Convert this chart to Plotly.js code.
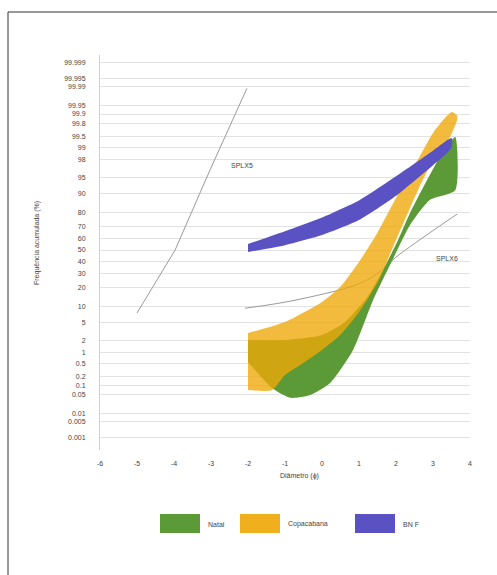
<!DOCTYPE html>
<html>
<head>
<meta charset="utf-8">
<script src="https://cdn.plot.ly/plotly-3.0.1.min.js"></script>
<style>
html,body{margin:0;padding:0;background:#fff;}
#chart{width:497px;height:575px;}
</style>
</head>
<body>
<div id="chart"></div>
<script>
// ---- Data (diameter in phi, cumulative frequency in %) ----
const yTickPct = [0.001, 0.005, 0.01, 0.05, 0.1, 0.2, 0.5, 1, 2, 5, 10, 20, 30, 40, 50, 60, 70, 80, 90, 95, 98, 99, 99.5, 99.8, 99.9, 99.95, 99.99, 99.995, 99.999];
const yTickText = ["0.001", "0.005", "0.01", "0.05", "0.1", "0.2", "0.5", "1", "2", "5", "10", "20", "30", "40", "50", "60", "70", "80", "90", "95", "98", "99", "99.5", "99.8", "99.9", "99.95", "99.99", "99.995", "99.999"];
const xTickVals = [-6, -5, -4, -3, -2, -1, 0, 1, 2, 3, 4];

const seriesNames = ["Natal", "Copacabana", "BN F"];

// Green band (Natal)
const natalTopPhi = [-2, -1, 0, 0.62, 1.22, 1.65, 2.03, 2.38, 2.84, 3.19, 3.6];
const natalTopPct = [2.04, 2.04, 2.68, 5.1, 14.2, 32.5, 57.2, 80, 94.4, 98.3, 99.49];
const natalBotPhi = [-2, -1.35, -0.86, -0.32, 0.22, 0.84, 1.38, 1.97, 2.38, 2.92, 3.6];
const natalBotPct = [0.55, 0.085, 0.039, 0.049, 0.126, 1.16, 12.7, 45.5, 71.5, 87.3, 91.3];

// Orange band (Copacabana)
const copaTopPhi = [-2, -1, 0, 0.49, 1.0, 1.51, 2.0, 2.51, 3.0, 3.32, 3.51, 3.65];
const copaTopPct = [2.96, 5.1, 11.9, 20, 39.3, 65.9, 88.1, 97.3, 99.61, 99.865, 99.915, 99.89];
const copaBotPhi = [-2, -1.35, -1.0, -0.59, 0, 0.49, 1.0, 1.51, 2.0, 2.38, 2.78, 3.19, 3.46, 3.65];
const copaBotPct = [0.073, 0.073, 0.225, 0.45, 1.16, 2.68, 7.9, 23.3, 59, 83, 95.4, 98.85, 99.49, 99.84];

// Blue band (BN F)
const bnfPhi = [-2, -1, 0, 1, 2, 3, 3.5];
const bnfTopPct = [55.4, 66.5, 77, 87, 95.3, 98.8, 99.45];
const bnfBotPct = [48.2, 54.4, 63.3, 75.2, 89.1, 97.3, 99.0];

// Reference lines
const splx5Phi = [-5, -3.97, -3.03, -2.03];
const splx5Pct = [7.6, 50, 96.5, 99.988];
const splx6Phi = [-2.08, -0.59, 1.22, 2.11, 3.65];
const splx6Pct = [9.3, 13.2, 24.8, 46.4, 79.3];
const lineNames = ["SPLX5", "SPLX6"];

// ---- Probability scale (inverse normal CDF) ----
function probit(pct) {
  const p = pct / 100;
  const a = [-3.969683028665376e+01, 2.209460984245205e+02, -2.759285104469687e+02, 1.383577518672690e+02, -3.066479806614716e+01, 2.506628277459239e+00];
  const b = [-5.447609879822406e+01, 1.615858368580409e+02, -1.556989798598866e+02, 6.680131188771972e+01, -1.328068155288572e+01];
  const c = [-7.784894002430293e-03, -3.223964580411365e-01, -2.400758277161838e+00, -2.549732539343734e+00, 4.374664141464968e+00, 2.938163982698783e+00];
  const d = [7.784695709041462e-03, 3.224671290700398e-01, 2.445134137142996e+00, 3.754408661907416e+00];
  const pl = 0.02425, ph = 1 - pl;
  let q, r;
  if (p < pl) {
    q = Math.sqrt(-2 * Math.log(p));
    return (((((c[0]*q+c[1])*q+c[2])*q+c[3])*q+c[4])*q+c[5]) / ((((d[0]*q+d[1])*q+d[2])*q+d[3])*q+1);
  } else if (p <= ph) {
    q = p - 0.5; r = q*q;
    return (((((a[0]*r+a[1])*r+a[2])*r+a[3])*r+a[4])*r+a[5])*q / (((((b[0]*r+b[1])*r+b[2])*r+b[3])*r+b[4])*r+1);
  } else {
    q = Math.sqrt(-2 * Math.log(1 - p));
    return -(((((c[0]*q+c[1])*q+c[2])*q+c[3])*q+c[4])*q+c[5]) / ((((d[0]*q+d[1])*q+d[2])*q+d[3])*q+1);
  }
}
const Z = arr => arr.map(probit);

function band(topX, topP, botX, botP, color, name) {
  return {
    x: topX.concat(botX.slice().reverse()),
    y: Z(topP).concat(Z(botP).reverse()),
    type: 'scatter', mode: 'lines', fill: 'toself',
    fillcolor: color, line: {width: 0, shape: 'spline', smoothing: 0.6},
    name: name, showlegend: false, hoverinfo: 'skip'
  };
}

const colors = ['#5b9a36', 'rgba(240,168,8,0.78)', '#5a52c2'];
const legendSwatch = ['#5b9a36', '#f0b01e', '#5a52c2'];

const traces = [
  {x: splx5Phi, y: Z(splx5Pct), type: 'scatter', mode: 'lines', line: {color: '#9a9a9a', width: 1}, showlegend: false, name: lineNames[0]},
  {x: splx6Phi, y: Z(splx6Pct), type: 'scatter', mode: 'lines', line: {color: '#9a9a9a', width: 1, shape: 'spline'}, showlegend: false, name: lineNames[1]},
  band(natalTopPhi, natalTopPct, natalBotPhi, natalBotPct, colors[0], seriesNames[0]),
  band(copaTopPhi, copaTopPct, copaBotPhi, copaBotPct, colors[1], seriesNames[1]),
  band(bnfPhi, bnfTopPct, bnfPhi, bnfBotPct, colors[2], seriesNames[2])
];

// paper coordinate helpers (plot area: x 100..470, y 55..450)
const px = v => (v - 100) / 370;
const py = v => (450 - v) / 395;

const shapes = [
  {type: 'line', xref: 'paper', yref: 'paper', x0: px(8), x1: px(8), y0: py(12), y1: py(600), line: {color: '#333', width: 1}},
  {type: 'line', xref: 'paper', yref: 'paper', x0: px(8), x1: px(600), y0: py(12), y1: py(12), line: {color: '#333', width: 1}}
];
const legX = [160, 240, 355];
legX.forEach((x0, i) => {
  shapes.push({type: 'rect', xref: 'paper', yref: 'paper', x0: px(x0), x1: px(x0 + 40), y0: py(533), y1: py(514), fillcolor: legendSwatch[i], line: {width: 0}});
});

const annFont = {family: 'Liberation Sans, Arial, sans-serif', size: 7, color: '#444'};
function ann(x, y, text, extra) {
  return Object.assign({xref: 'paper', yref: 'paper', x: px(x), y: py(y), text: text, showarrow: false,
    xanchor: 'center', yanchor: 'middle', font: annFont}, extra || {});
}
const annotations = [
  ann(242, 165, lineNames[0]),
  ann(447, 258, lineNames[1]),
  ann(37, 243, 'Frequência acumulada (%)', {textangle: -90}),
  ann(299, 476, 'Diâmetro (ϕ)')
];
legX.forEach((x0, i) => {
  annotations.push(ann(x0 + 46, 524, seriesNames[i], {xanchor: 'left'}));
});

const layout = {
  width: 497, height: 575,
  margin: {l: 100, r: 27, t: 55, b: 125},
  paper_bgcolor: '#fff', plot_bgcolor: '#fff',
  showlegend: false,
  font: {family: 'Liberation Sans, Arial, sans-serif', size: 7, color: '#444'},
  xaxis: {
    range: [-6, 4], tickvals: xTickVals, ticktext: xTickVals.map(String),
    showgrid: false, zeroline: false, showline: false, ticks: '',
    ticklabelstandoff: 8, tickfont: {size: 7, color: '#444'}
  },
  yaxis: {
    range: [probit(0.001) - 0.28, probit(99.999) + 0.167],
    tickvals: Z(yTickPct), ticktext: yTickText,
    showgrid: true, gridcolor: '#e2e2e2', gridwidth: 1,
    zeroline: false, showline: true, linecolor: '#cfcfcf', ticks: '',
    ticklabelstandoff: 12, tickfont: {size: 7, color: '#444'}
  },
  shapes: shapes,
  annotations: annotations
};

Plotly.newPlot('chart', traces, layout, {displayModeBar: false, staticPlot: true});
</script>
</body>
</html>
